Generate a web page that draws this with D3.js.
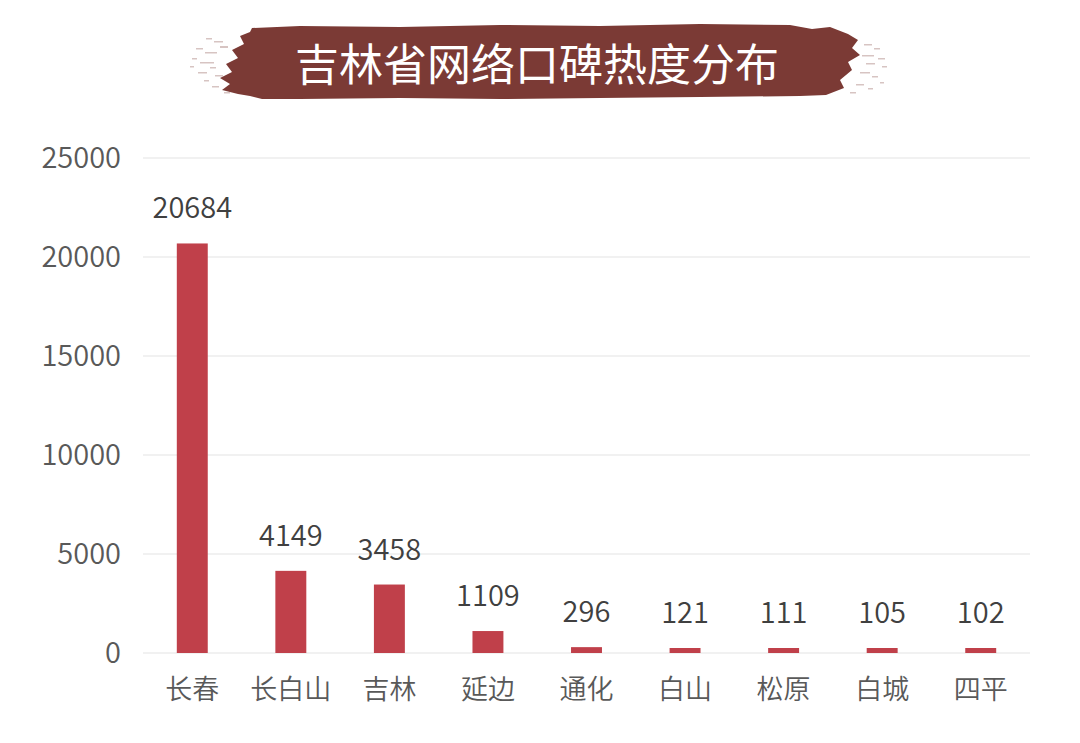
<!DOCTYPE html>
<html><head><meta charset="utf-8">
<script src="https://cdn.jsdelivr.net/npm/d3@7"></script>
<style>html,body{margin:0;padding:0;background:#fff;}svg{display:block;}</style>
</head><body>
<svg id="chart" width="1080" height="743"></svg>
<script>
const title = "吉林省网络口碑热度分布";
const categories = ["长春","长白山","吉林","延边","通化","白山","松原","白城","四平"];
const values = [20684,4149,3458,1109,296,121,111,105,102];
const yTicks = [0,5000,10000,15000,20000,25000];

(function(){
const svg = d3.select("#chart");
const font = "'Noto Sans CJK SC','Noto Sans',sans-serif";
const pLeft = 143, pRight = 1030, pTop = 158, pBottom = 653;

// Title banner (brush stroke)
const banner = svg.append("g");
const bp = [[252,28],[300,26],[400,27],[500,25],[600,26],[700,24],[790,25],[812,29],[830,27],[848,34],[858,40],[852,48],[860,55],[848,62],[852,70],[840,80],[844,88],[826,95],[800,96],[700,97],[600,98],[500,99],[400,98],[300,99],[262,99],[250,96],[238,94],[222,90],[230,84],[220,78],[232,72],[226,64],[238,58],[232,50],[244,44],[240,36],[250,32]];
banner.append("path").attr("d", d3.line()(bp) + "Z").attr("fill", "#7b3a35");
const specks = [[206,38,6,1.5],[214,41,9,1.5],[196,48,7,1.5],[205,52,12,1.5],[192,58,5,1.5],[200,62,14,1.5],[210,67,6,1.5],[198,72,9,1.5],[215,75,8,1.5],[204,80,5,1.5],[212,86,7,1.5],[224,92,6,1.5],[220,46,8,2],[190,66,4,1.5],
  [864,44,8,1.5],[874,48,6,1.5],[862,55,12,1.5],[878,58,7,1.5],[866,63,9,1.5],[882,66,5,1.5],[860,72,10,1.5],[872,76,6,1.5],[856,84,8,1.5],[868,88,5,1.5],[850,92,6,1.5],[880,82,4,1.5]];
banner.selectAll("rect.speck").data(specks).join("rect")
  .attr("x", d=>d[0]).attr("y", d=>d[1]).attr("width", d=>d[2]).attr("height", d=>d[3])
  .attr("fill", "#7b3a35").attr("opacity", 0.3);
banner.append("text").attr("x", 537).attr("y", 62)
  .attr("text-anchor","middle").attr("dominant-baseline","central")
  .attr("fill","#fff").attr("font-family", font).attr("font-size", 44).attr("font-weight", 400)
  .text(title);

const x = d3.scaleBand().domain(categories).range([pLeft, pRight]).paddingInner(0.686).paddingOuter(0.343);
const y = d3.scaleLinear().domain([0, 25000]).range([pBottom, pTop]);

// gridlines
svg.append("g").selectAll("line").data(yTicks).join("line")
  .attr("x1", pLeft).attr("x2", pRight)
  .attr("y1", d=>y(d)).attr("y2", d=>y(d))
  .attr("stroke", "#e3e3e3").attr("stroke-width", 1.2);

// y axis labels
const yAxis = d3.axisLeft(y).tickValues(yTicks).tickSize(0).tickPadding(0).tickFormat(d3.format("d"));
const ya = svg.append("g").attr("transform", `translate(${pLeft-22},0)`).call(yAxis);
ya.select(".domain").remove();
ya.selectAll("text").attr("font-family", font).attr("font-size", 29).attr("font-weight", 350).attr("fill", "#595959");

// bars
const minH = 5;
svg.append("g").selectAll("rect").data(values).join("rect")
  .attr("x", (d,i)=>x(categories[i]))
  .attr("width", x.bandwidth())
  .attr("y", d=>Math.min(y(d), pBottom - minH))
  .attr("height", d=>Math.max(pBottom - y(d), minH))
  .attr("fill", "#c0404a");

// value labels
svg.append("g").selectAll("text").data(values).join("text")
  .attr("x", (d,i)=>x(categories[i]) + x.bandwidth()/2)
  .attr("y", d=>Math.min(y(d), pBottom - minH) - 25)
  .attr("text-anchor","middle")
  .attr("font-family", font).attr("font-size", 29).attr("font-weight", 350).attr("fill", "#404040")
  .text(d=>d);

// x axis labels
const xAxis = d3.axisBottom(x).tickSize(0).tickPadding(0);
const xa = svg.append("g").attr("transform", `translate(0,${pBottom+46})`).call(xAxis);
xa.select(".domain").remove();
xa.selectAll("text").attr("dy", 0).attr("font-family", font).attr("font-size", 27).attr("font-weight", 350).attr("fill", "#595959");
})();
</script>
</body></html>
